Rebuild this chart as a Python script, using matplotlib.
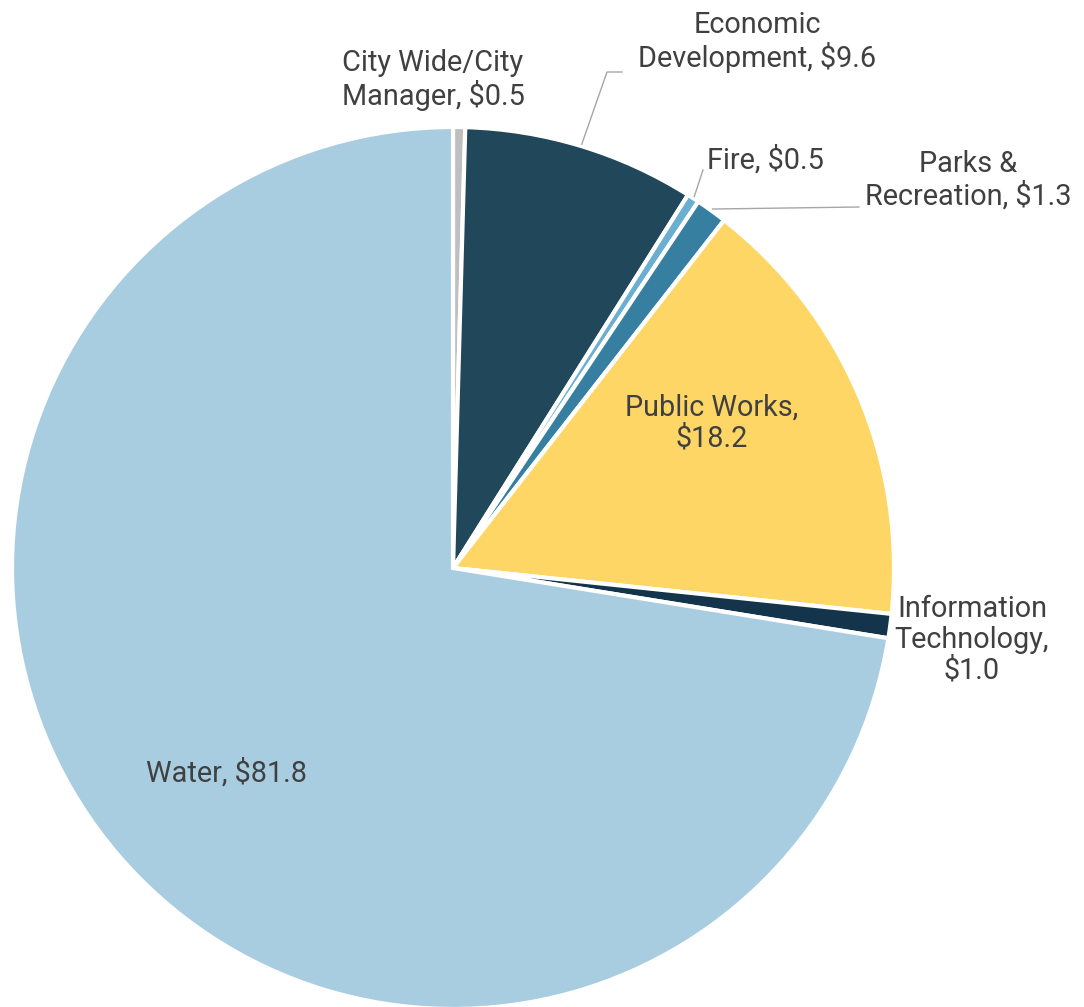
import matplotlib
matplotlib.use("Agg")
import matplotlib.pyplot as plt
import numpy as np

categories = ["City Wide/City\nManager", "Economic\nDevelopment", "Fire", "Parks &\nRecreation",
              "Public Works", "Information\nTechnology", "Water"]
values = [0.5, 9.6, 0.5, 1.3, 18.2, 1.0, 81.8]
colors = ["#bfbfbf", "#21475b", "#6aaed0", "#377fa0", "#fdd666", "#13344a", "#a9cde0"]
label_texts = ["City Wide/City\nManager, $0.5", "Economic\nDevelopment, $9.6", "Fire, $0.5",
               "Parks &\nRecreation, $1.3", "Public Works,\n$18.2", "Information\nTechnology,\n$1.0",
               "Water, $81.8"]

plt.rcParams['font.family'] = ['Roboto', 'DejaVu Sans']
W, H = 1084, 1007
fig = plt.figure(figsize=(W / 100, H / 100), dpi=100)
ax = fig.add_axes([0, 0, 1, 1])

cx, cy, R = 453, H - 568, 441
wedges, _ = ax.pie(values, colors=colors, startangle=90, counterclock=False,
                   center=(cx, cy), radius=R, frame=True,
                   wedgeprops=dict(edgecolor='white', linewidth=3))
ax.set_xlim(0, W)
ax.set_ylim(0, H)
ax.set_aspect('equal')
ax.axis('off')

tc = '#404040'
fs = 20.8
# label positions (pixel coords, y from top)
label_pos = [(433, 80), (757, 42), (765, 160), (968, 180), (712, 423), (972, 640), (226, 773)]
for txt, (lx, ly) in zip(label_texts, label_pos):
    ax.text(lx, H - ly, txt, ha='center', va='center', fontsize=fs, color=tc, linespacing=1.12)

def edge_point(i, r=R):
    w = wedges[i]
    ang = np.deg2rad((w.theta1 + w.theta2) / 2)
    return cx + r * np.cos(ang), cy + r * np.sin(ang)

lc = '#a6a6a6'
# Economic Development leader
x0, y0 = edge_point(1, R + 2)
ax.plot([x0, 607, 622], [y0, H - 72, H - 72], color=lc, lw=1)
# Fire leader
x0, y0 = edge_point(2, R + 2)
ax.plot([x0, 703], [y0, H - 170], color=lc, lw=1)
# Parks leader
x0, y0 = edge_point(3, R + 2)
ax.plot([x0, 859], [y0, H - 207], color=lc, lw=1)

fig.savefig("out.png", dpi=100)
